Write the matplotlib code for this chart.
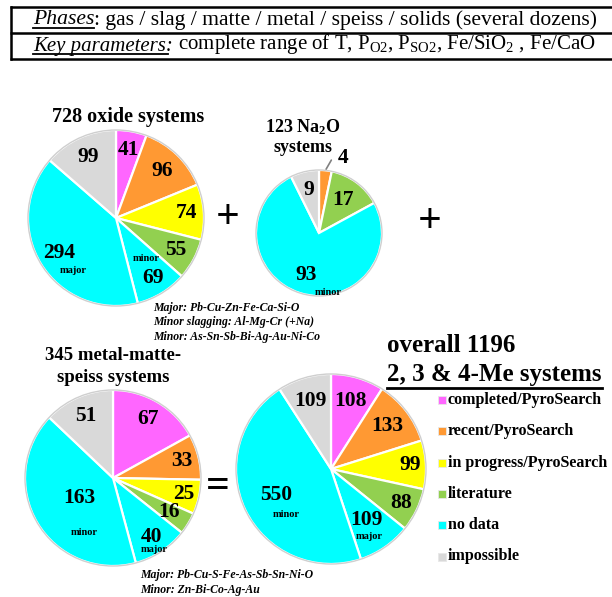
import numpy as np
import matplotlib.pyplot as plt
from matplotlib.patches import Circle

plt.rcParams['font.family'] = ['Liberation Serif', 'DejaVu Serif']
plt.rcParams['mathtext.fontset'] = 'custom'
plt.rcParams['mathtext.rm'] = 'Liberation Serif'
plt.rcParams['mathtext.it'] = 'Liberation Serif:italic'
plt.rcParams['mathtext.bf'] = 'Liberation Serif:bold'

# === Categories ===
categories = ["completed/PyroSearch", "recent/PyroSearch", "in progress/PyroSearch",
              "literature", "no data", "impossible"]
cat_colors = ["#FF66FF", "#FF9933", "#FFFF00", "#92D050", "#00FFFF", "#D9D9D9"]

# === System counts (clockwise from 12 o'clock) ===
oxide_values = [41, 96, 74, 55, 69, 294, 99]
oxide_cats = [0, 1, 2, 3, 4, 4, 5]
oxide_sub = [None, None, None, None, "minor", "major", None]

na2o_values = [4, 17, 93, 9]
na2o_cats = [1, 3, 4, 5]
na2o_sub = [None, None, "minor", None]

metal_values = [67, 33, 25, 16, 40, 163, 51]
metal_cats = [0, 1, 2, 3, 4, 4, 5]
metal_sub = [None, None, None, None, "major", "minor", None]

overall_values = [108, 133, 99, 88, 109, 550, 109]
overall_cats = [0, 1, 2, 3, 4, 4, 5]
overall_sub = [None, None, None, None, "major", "minor", None]

W, H = 612, 597


def Y(y):
    return H - y


fig = plt.figure(figsize=(W / 100, H / 100), dpi=100)
ax = fig.add_axes([0, 0, 1, 1])


def draw_pie(values, cats, subs, center, radius, label_r, sub_off, skip=()):
    cx, cy = center
    wedges, _ = ax.pie(values, colors=[cat_colors[c] for c in cats], startangle=90,
                       counterclock=False, center=(cx, Y(cy)), radius=radius,
                       wedgeprops=dict(edgecolor="white", linewidth=1.6))
    ax.add_patch(Circle((cx, Y(cy)), radius, fill=False, ec="#cfcfcf", lw=1.0))
    for i, (w, v) in enumerate(zip(wedges, values)):
        mid = np.deg2rad((w.theta1 + w.theta2) / 2)
        if i in skip:
            continue
        lx = cx + label_r[i] * radius * np.cos(mid)
        ly = Y(cy) + label_r[i] * radius * np.sin(mid)
        ax.text(lx, ly, str(v), ha="center", va="center", fontsize=15.5,
                fontweight="bold")
        if subs[i]:
            dx, dy = sub_off[i]
            ax.text(lx + dx, ly - dy, subs[i], ha="center", va="center",
                    fontsize=7.5, fontweight="bold")
    return wedges


# oxide systems
draw_pie(oxide_values, oxide_cats, oxide_sub, (116, 218), 88,
         [0.78, 0.75, 0.8, 0.77, 0.8, 0.76, 0.76],
         {4: (-6, -20), 5: (14, 17)})
ax.text(128, Y(117), "728 oxide systems", ha="center", va="center",
        fontsize=14.5, fontweight="bold")

# Na2O systems
na_w = draw_pie(na2o_values, na2o_cats, na2o_sub, (319, 233), 63,
                [1.2, 0.65, 0.7, 0.7], {2: (23, 17)}, skip=(0,))
mid = np.deg2rad((na_w[0].theta1 + na_w[0].theta2) / 2)
ax.annotate(str(na2o_values[0]), xy=(319 + 63 * np.cos(mid), Y(233) + 63 * np.sin(mid)),
            xytext=(343, Y(158)), ha="center", va="center", fontsize=15.5,
            fontweight="bold",
            arrowprops=dict(arrowstyle="-", color="#808080", lw=1.2,
                            shrinkA=3, shrinkB=1,
                            connectionstyle="angle,angleA=180,angleB=60,rad=0"))
ax.text(303, Y(127), "123 Na$_\\mathbf{2}$O", ha="center", va="center",
        fontsize=13, fontweight="bold")
ax.text(303, Y(148), "systems", ha="center", va="center",
        fontsize=13, fontweight="bold")

# metal-matte-speiss systems
draw_pie(metal_values, metal_cats, metal_sub, (113, 478), 88,
         [0.78, 0.8, 0.82, 0.74, 0.8, 0.44, 0.77],
         {4: (3, 13), 5: (4, 35)})
ax.text(113, Y(355), "345 metal-matte-", ha="center", va="center",
        fontsize=13.5, fontweight="bold")
ax.text(113, Y(378), "speiss systems", ha="center", va="center",
        fontsize=13.5, fontweight="bold")

# overall
draw_pie(overall_values, overall_cats, overall_sub, (331, 469), 95,
         [0.75, 0.75, 0.83, 0.82, 0.65, 0.64, 0.75],
         {4: (3, 17), 5: (10, 19)})

ax.text(228, Y(218), "+", ha="center", va="center", fontsize=30, fontweight="bold")
ax.text(430, Y(222), "+", ha="center", va="center", fontsize=30, fontweight="bold")
ax.text(218, Y(487), "=", ha="center", va="center", fontsize=30, fontweight="bold")

ax.text(387, Y(345), "overall 1196", ha="left", va="center",
        fontsize=18, fontweight="bold")
t_me = ax.text(387, Y(375), "2, 3 & 4-Me systems", ha="left", va="center",
               fontsize=18, fontweight="bold")

# legend
for i, (cat, col) in enumerate(zip(categories, cat_colors)):
    yy = Y(400 + i * 31.3)
    ax.scatter(442, yy, marker="s", s=36, color=col, edgecolors="#e8e8e8", linewidths=0.6)
    ax.text(448, yy, cat, ha="left", va="center", fontsize=11.5, fontweight="bold")

# element notes
notes_top = ["Major: Pb-Cu-Zn-Fe-Ca-Si-O", "Minor slagging: Al-Mg-Cr (+Na)",
             "Minor: As-Sn-Sb-Bi-Ag-Au-Ni-Co"]
for i, s in enumerate(notes_top):
    ax.text(153, Y(308 + i * 14.5), s, ha="left", va="center", fontsize=8.5,
            fontweight="bold", style="italic")
notes_bottom = ["Major: Pb-Cu-S-Fe-As-Sb-Sn-Ni-O", "Minor: Zn-Bi-Co-Ag-Au"]
for i, s in enumerate(notes_bottom):
    ax.text(140, Y(575 + i * 15), s, ha="left", va="center", fontsize=8.5,
            fontweight="bold", style="italic")

# header table (open on the right side)
for yl in (6.5, 32.5, 59):
    ax.plot([10, W], [Y(yl), Y(yl)], color="black", lw=1.8, solid_capstyle="butt")
ax.plot([10.5, 10.5], [Y(6.5), Y(59)], color="black", lw=1.8)
t_ph = ax.text(33, Y(20), "Phases", ha="left", va="center", fontsize=15.6,
               style="italic")
ax.annotate(": gas / slag / matte / metal / speiss / solids (several dozens)",
            xy=(1, 0), xycoords=t_ph, ha="left", va="bottom", fontsize=15.6)
t_kp = ax.text(33, Y(46), "Key parameters:", ha="left", va="center", fontsize=15,
               style="italic")
ax.annotate(" complete range of T, P$_{\\mathrm{O2}}$, P$_{\\mathrm{SO2}}$, "
            "Fe/SiO$_{\\mathrm{2}}$ , Fe/CaO",
            xy=(1, 0), xycoords=t_kp, ha="left", va="bottom", fontsize=15)

ax.set_xlim(0, W)
ax.set_ylim(0, H)
ax.set_aspect("equal")
ax.axis("off")

# underlines
fig.canvas.draw()
inv = ax.transData.inverted()
for t, lw, gap in [(t_ph, 1.3, 2), (t_kp, 1.3, 2), (t_me, 2.0, -1)]:
    bb = t.get_window_extent()
    (x0, y0), (x1, _) = inv.transform([(bb.x0, bb.y0), (bb.x1, bb.y1)])
    if t is t_kp:
        x1 -= 5
    ax.plot([x0, x1], [y0 + gap, y0 + gap], color="black", lw=lw)

fig.savefig("out.png", dpi=100)
